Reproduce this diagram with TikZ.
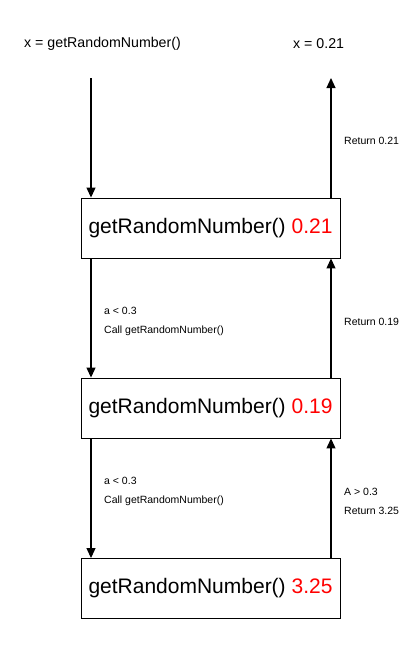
\documentclass[tikz,border=0pt]{standalone}
\usepackage{fontspec}
\setmainfont{Liberation Sans}
\usepackage{xcolor}
\usetikzlibrary{arrows.meta}

\begin{document}
\begin{tikzpicture}[x=1pt, y=-1pt, >={Triangle[length=10pt,width=9pt]},
    frame/.style={draw, line width=0.9pt, minimum width=259pt, minimum height=60pt,
        inner sep=0pt, font=\fontsize{21}{25}\selectfont},
    note/.style={anchor=west, inner sep=0pt, font=\fontsize{10.5}{12}\selectfont},
    head/.style={anchor=west, inner sep=0pt, font=\fontsize{14.2}{17}\selectfont},
    flow/.style={->, line width=1.1pt}]

    \useasboundingbox (0, 0) rectangle (420, 657);

    % Caller and final value
    \node[head] (call) at (24, 44) {x = getRandomNumber()};
    \node[head] (result) at (293, 44) {x = 0.21};
    \coordinate (lx) at (91, 78);
    \coordinate (rx) at (331, 78);

    % Recursive frames
    \node[frame] (frame1) at (210.5, 228) {getRandomNumber() \textcolor{red}{0.21}};
    \node[frame] (frame2) at (210.5, 408) {getRandomNumber() \textcolor{red}{0.19}};
    \node[frame] (frame3) at (210.5, 588.5) {getRandomNumber() \textcolor{red}{3.25}};

    % Calls going down
    \draw[flow] (lx) -- (lx |- frame1.north);
    \draw[flow] (lx |- frame1.south) -- (lx |- frame2.north);
    \draw[flow] (lx |- frame2.south) -- (lx |- frame3.north);

    % Returns going up
    \draw[flow] (rx |- frame3.north) -- (rx |- frame2.south);
    \draw[flow] (rx |- frame2.north) -- (rx |- frame1.south);
    \draw[flow] (rx |- frame1.north) -- (rx);

    % Labels
    \node[note] (cond1) at (104, 311) {a < 0.3};
    \node[note] (rec1) at (104, 331) {Call getRandomNumber()};
    \node[note] (cond2) at (104, 481) {a < 0.3};
    \node[note] (rec2) at (104, 501) {Call getRandomNumber()};
    \node[note] (ret1) at (344, 141) {Return 0.21};
    \node[note] (ret2) at (344, 322) {Return 0.19};
    \node[note] (cond3) at (344, 492) {A > 0.3};
    \node[note] (ret3) at (344, 511) {Return 3.25};

\end{tikzpicture}
\end{document}
